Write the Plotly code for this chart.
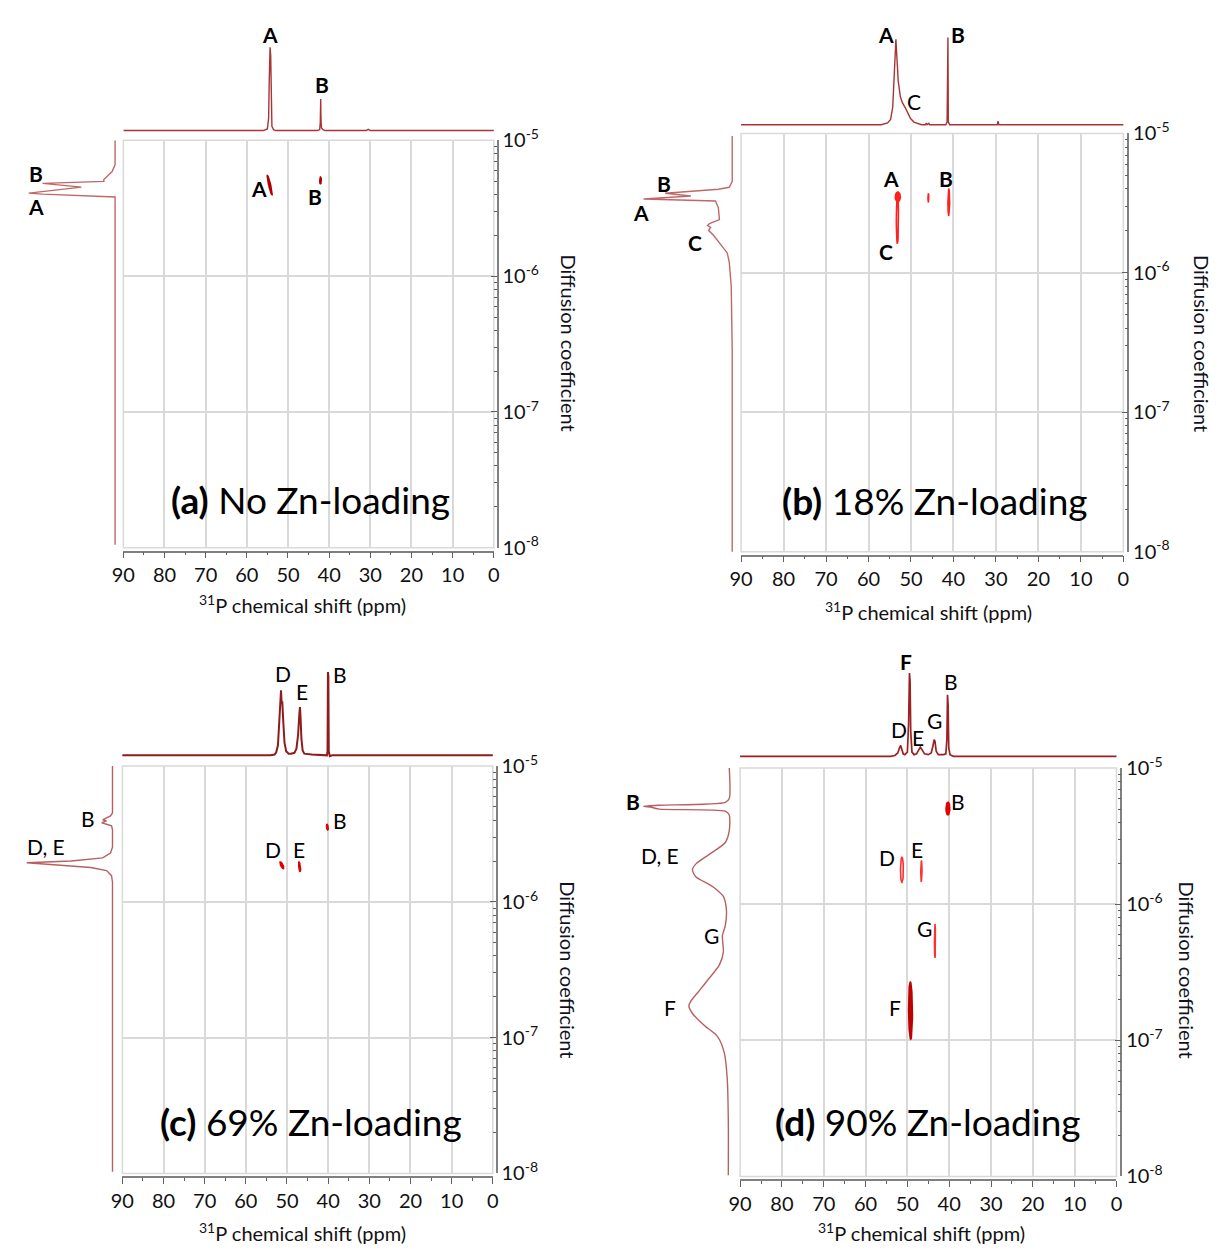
import math
import plotly.graph_objects as go

W, H = 1220, 1255
FONT = "Lato, 'Open Sans', sans-serif"

# ------------------------------------------------------------------ data
# 1D 31P spectra (top traces): chemical shift (ppm) vs normalised intensity
a_top_ppm = [90, 56, 55.0, 54.7, 54.55, 54.45, 54.35, 54.2, 54.1, 53.9, 53.5, 53, 43, 42.3, 42.15, 42.1, 42.05,
             42.0, 41.95, 41.85, 41.5, 41, 31, 30.5, 30, 0]
a_top_int = [0, 0, 0.02, 0.15, 0.6, 0.95, 1.0, 0.9, 0.4, 0.05, 0.01, 0, 0, 0.01, 0.1, 0.38, 0.38,
             0.2, 0.1, 0.03, 0.01, 0, 0, 0.015, 0, 0]

b_top_ppm = [90, 65, 64.5, 64, 57, 55.5, 54.8, 54.3, 54.0, 53.7, 53.55, 53.35, 53.0, 52.5, 52.0, 51.3, 50.7,
             50.1, 49.3, 48.3, 47.5, 46.6, 46.4, 46.2, 45.8, 45.6, 41.8, 41.5, 41.45, 41.4, 41.3, 41.25,
             41.2, 40.9, 29.7, 29.5, 29.3, 0]
b_top_int = [0, 0, 0.005, 0, 0, 0.02, 0.06, 0.2, 0.5, 0.9, 0.98, 0.8, 0.5, 0.32, 0.25, 0.19, 0.13,
             0.07, 0.03, 0.01, 0, 0, 0.02, 0, 0.015, 0, 0, 0.03, 0.5, 1.0, 1.0, 0.5,
             0.03, 0, 0, 0.04, 0, 0]

c_top_ppm = [90, 54, 53, 52.6, 52.2, 51.9, 51.6, 51.45, 51.3, 51.15, 50.9, 50.6, 50.2, 49.6, 49, 48.2, 47.7,
             47.3, 47.0, 46.85, 46.7, 46.5, 46.2, 45.8, 44, 41, 40.3, 40.15, 40.05, 39.95, 39.85, 39.6, 39, 0]
c_top_int = [0, 0, 0.01, 0.04, 0.12, 0.35, 0.7, 0.78, 0.62, 0.65, 0.4, 0.15, 0.05, 0.02, 0.02, 0.03, 0.08,
             0.25, 0.5, 0.58, 0.45, 0.2, 0.06, 0.02, 0.01, 0, 0, 0.05, 1.0, 0.95, 0.05, -0.01, 0, 0]

d_top_ppm = [90, 54, 53, 52.3, 51.9, 51.6, 51.3, 51.0, 50.6, 50.0, 49.7, 49.5, 49.35, 49.2, 48.9, 48.4, 47.8,
             47.3, 46.9, 46.5, 45.9, 45.0, 44.3, 43.9, 43.6, 43.4, 43.1, 42.6, 41.3, 40.8, 40.55, 40.4,
             40.25, 40.1, 39.8, 39, 0]
d_top_int = [0, 0, 0.01, 0.04, 0.1, 0.13, 0.08, 0.03, 0.02, 0.05, 0.4, 1.0, 0.9, 0.3, 0.05, 0.02, 0.03,
             0.08, 0.11, 0.08, 0.03, 0.02, 0.04, 0.12, 0.2, 0.18, 0.06, 0.02, 0.02, 0.03, 0.2, 0.74,
             0.6, 0.1, 0.02, 0, 0]

# Diffusion projections (left traces): normalised intensity vs diffusion coefficient
a_left_int = [0, 0, 0.034, 0.11, 0.13, 0.13, 0.84, 0.39, 1.0, 0.84, 0, 0]
a_left_D = [1.0e-5, 6.61e-6, 5.89e-6, 5.33e-6, 5.15e-6, 4.99e-6, 4.82e-6, 4.52e-6, 4.09e-6, 4.02e-6,
            3.83e-6, 1.05e-8]

b_left_int = [0, 0, 0.033, 0.156, 0.756, 0.467, 1.0, 0.678, 0.189, 0.156, 0.144, 0.256, 0.278, 0.244,
              0.267, 0.211, 0.122, 0.056, 0.033, 0.011, 0, 0]
b_left_D = [9.6e-6, 4.53e-6, 4.11e-6, 3.98e-6, 3.73e-6, 3.56e-6, 3.39e-6, 3.33e-6, 3.28e-6, 2.93e-6,
            2.41e-6, 2.26e-6, 2.19e-6, 2.12e-6, 2.02e-6, 1.86e-6, 1.58e-6, 1.39e-6, 1.19e-6, 8.04e-7,
            2.77e-7, 9.8e-9]

c_left_int = [0, 0, 0.023, 0.115, 0.069, 0.126, 0.011, 0, 0, 0.023, 0.115, 0.483, 1.0, 0.713, 0.253,
              0.069, 0.011, 0, 0]
c_left_D = [1.0e-5, 4.52e-6, 4.30e-6, 4.02e-6, 3.95e-6, 3.83e-6, 3.64e-6, 3.40e-6, 2.53e-6, 2.29e-6,
            2.11e-6, 2.00e-6, 1.94e-6, 1.88e-6, 1.79e-6, 1.70e-6, 1.56e-6, 1.39e-6, 1.03e-8]

d_left_int = [0, 0, 0.046, 0.816, 1.0, 0.908, 0.816, 0.046, 0, 0, 0.046, 0.23, 0.391, 0.43, 0.391, 0.23,
              0.161, 0.069, 0.034, 0.046, 0.08, 0.069, 0.115, 0.23, 0.356, 0.448, 0.471, 0.425, 0.287,
              0.138, 0.057, 0.023, 0.011, 0.011]
d_left_D = [1.0e-5, 5.98e-6, 5.60e-6, 5.33e-6, 5.24e-6, 5.15e-6, 4.99e-6, 4.82e-6, 4.52e-6, 3.47e-6,
            2.84e-6, 2.33e-6, 1.97e-6, 1.79e-6, 1.59e-6, 1.39e-6, 1.30e-6, 1.14e-6, 9.2e-7, 6.95e-7,
            5.89e-7, 4.44e-7, 3.58e-7, 2.88e-7, 2.29e-7, 1.94e-7, 1.79e-7, 1.56e-7, 1.28e-7, 1.07e-7,
            8.06e-8, 5.15e-8, 2.53e-8, 1.02e-8]

# 2D DOSY cross peaks: ppm at top / bottom end, D at top / bottom end, half width (ppm)
a_xp_ppm_top = [55.0, 42.1]
a_xp_ppm_bot = [53.9, 42.1]
a_xp_D_top = [5.50e-6, 5.37e-6]
a_xp_D_bot = [3.98e-6, 4.79e-6]
a_xp_hw = [0.25, 0.2]

b_xp_ppm_top = [53.1, 53.2, 45.9, 41.1]
b_xp_ppm_bot = [53.1, 53.2, 45.9, 41.1]
b_xp_D_top = [3.80e-6, 3.80e-6, 3.72e-6, 3.98e-6]
b_xp_D_bot = [3.24e-6, 1.62e-6, 3.24e-6, 2.57e-6]
b_xp_hw = [0.6, 0.25, 0.1, 0.2]

c_xp_ppm_top = [40.3, 51.6, 47.1]
c_xp_ppm_bot = [40.1, 50.9, 46.8]
c_xp_D_top = [3.72e-6, 1.97e-6, 1.97e-6]
c_xp_D_bot = [3.39e-6, 1.76e-6, 1.67e-6]
c_xp_hw = [0.2, 0.3, 0.2]

d_xp_ppm_top = [40.3, 51.3, 46.65, 43.4, 49.3]
d_xp_ppm_bot = [40.3, 51.3, 46.65, 43.4, 49.2]
d_xp_D_top = [5.62e-6, 2.21e-6, 2.09e-6, 7.16e-7, 2.69e-7]
d_xp_D_bot = [4.52e-6, 1.45e-6, 1.46e-6, 4.03e-7, 1.02e-7]
d_xp_hw = [0.45, 0.35, 0.15, 0.12, 0.45]

y_tickvals = [1e-8, 1e-7, 1e-6, 1e-5]
y_ticktext = ["10<sup>-8</sup>", "10<sup>-7</sup>", "10<sup>-6</sup>", "10<sup>-5</sup>"]
panel_titles = ["<b>(a)</b> No Zn-loading", "<b>(b)</b> 18% Zn-loading",
                "<b>(c)</b> 69% Zn-loading", "<b>(d)</b> 90% Zn-loading"]
x_title = "<sup>31</sup>P chemical shift (ppm)"
y_title = "Diffusion coefficient"

# ------------------------------------------------------------------ layout geometry (pixels)
panels = [
    dict(box=(113, 489, 128, 544), topx=(113, 492), topy=(20, 122), top0=118, top1=33,
         leftx=(6, 110), left0=104.6, left1=17, raxis=493, xline=548,
         title=(303, 495), xt=(295, 601), yt=(565, 335),
         top=(a_top_ppm, a_top_int), left=(a_left_int, a_left_D),
         xp=(a_xp_ppm_top, a_xp_ppm_bot, a_xp_D_top, a_xp_D_bot, a_xp_hw),
         topc="#a83434", topw=1.4, leftc="#c06868", xpc=["#b00000", "#b00000"], xpfill=[True, True],
         labels=[("A", 262, 20, True), ("B", 315, 71, True), ("A", 251, 177, True), ("B", 308, 185, True),
                 ("B", 24, 162, True), ("A", 24, 196, True)]),
    dict(box=(740, 1128, 121, 548), topx=(739, 1131), topy=(12, 116), top0=112, top1=23,
         leftx=(630, 736), left0=731, left1=641, raxis=1133, xline=552,
         title=(937, 496), xt=(930, 609), yt=(1208, 335),
         top=(b_top_ppm, b_top_int), left=(b_left_int, b_left_D),
         xp=(b_xp_ppm_top, b_xp_ppm_bot, b_xp_D_top, b_xp_D_bot, b_xp_hw),
         topc="#a83434", topw=1.4, leftc="#c06868", xpc=["#ff2020", "#ff2020", "#ff2020", "#ff2020"],
         xpfill=[True, False, True, True],
         labels=[("A", 887, 20, True), ("B", 960, 20, True), ("C", 915, 88, False),
                 ("A", 892, 167, True), ("B", 948, 167, True), ("C", 887, 241, True),
                 ("B", 662, 172, True), ("A", 638, 202, True), ("C", 693, 232, True)]),
    dict(box=(112, 488, 767, 1183), topx=(107, 495), topy=(660, 760), top0=756, top1=671,
         leftx=(6, 106), left0=102, left1=15, raxis=492, xline=1187,
         title=(303, 1130), xt=(295, 1243), yt=(565, 975),
         top=(c_top_ppm, c_top_int), left=(c_left_int, c_left_D),
         xp=(c_xp_ppm_top, c_xp_ppm_bot, c_xp_D_top, c_xp_D_bot, c_xp_hw),
         topc="#8e1c1c", topw=2.0, leftc="#b86060", xpc=["#e00000", "#e00000", "#e00000"],
         xpfill=[True, True, True],
         labels=[("D", 275, 672, False), ("E", 294, 691, False), ("B", 333, 673, False),
                 ("B", 333, 823, False), ("D", 265, 852, False), ("E", 291, 852, False),
                 ("B", 77, 820, False), ("D, E", 35, 849, False)]),
    dict(box=(739, 1121, 769, 1186), topx=(737, 1124), topy=(660, 762), top0=757, top1=672,
         leftx=(632, 733), left0=728, left1=641, raxis=1126, xline=1190,
         title=(930, 1130), xt=(923, 1243), yt=(1193, 975),
         top=(d_top_ppm, d_top_int), left=(d_left_int, d_left_D),
         xp=(d_xp_ppm_top, d_xp_ppm_bot, d_xp_D_top, d_xp_D_bot, d_xp_hw),
         topc="#9b2222", topw=1.7, leftc="#b86060",
         xpc=["#e00000", "#ff3030", "#ff3030", "#ff3030", "#c00000"],
         xpfill=[True, False, True, True, True],
         labels=[("F", 907, 660, True), ("B", 953, 681, False), ("D", 900, 730, False),
                 ("E", 920, 738, False), ("G", 936, 720, False),
                 ("B", 960, 803, False), ("D", 888, 860, False), ("E", 919, 852, False),
                 ("G", 926, 933, False), ("F", 896, 1013, False),
                 ("B", 630, 803, True), ("D, E", 658, 858, False), ("G", 710, 940, False),
                 ("F", 668, 1013, False)]),
]


def px(x):
    return x / W


def py(y):
    return 1 - y / H


def lin_range(d0, d1, p0, p1):
    return [(d0 - p0) / (p1 - p0), (d1 - p0) / (p1 - p0)]


def ppm_at(p, box):
    x0, x1 = box[0], box[1]
    return 90 - (p - x0) * 90 / (x1 - x0)


def ax_names(i):
    return ("xaxis" if i == 1 else f"xaxis{i}", "yaxis" if i == 1 else f"yaxis{i}",
            "x" if i == 1 else f"x{i}", "y" if i == 1 else f"y{i}")


fig = go.Figure()
layout = {}
annotations = []
shapes = []
GRID = "#d9d9d9"
AXC = "#808080"

for k, g in enumerate(panels):
    x0, x1, y0, y1 = g["box"]
    im, it, il = 3 * k + 1, 3 * k + 2, 3 * k + 3
    mxa, mya, mx, my = ax_names(im)
    txa, tya, tx, ty = ax_names(it)
    lxa, lya, lx, ly = ax_names(il)

    # main 2D axes
    layout[mxa] = dict(domain=[px(x0), px(x1)], range=[90, 0], anchor="free", position=py(g["xline"]),
                       tickmode="linear", tick0=0, dtick=10, ticks="outside", ticklen=6, tickwidth=1.2,
                       tickcolor="#606060", showline=True, linecolor=AXC, linewidth=1.5,
                       showgrid=True, gridcolor=GRID, gridwidth=1.5, zeroline=False,
                       minor=dict(dtick=5, ticks="outside", ticklen=3, tickcolor="#606060", showgrid=False),
                       tickfont=dict(size=20, color="#111111", family=FONT))
    layout[mya] = dict(domain=[py(y1), py(y0)], type="log", range=[-8, -5], side="right", anchor="free",
                       position=px(g["raxis"]), tickmode="array", tickvals=y_tickvals, ticktext=y_ticktext,
                       ticks="inside", ticklen=6, tickwidth=1.2, tickcolor="#606060",
                       showline=True, linecolor=AXC, linewidth=1.5,
                       showgrid=True, gridcolor=GRID, gridwidth=1.5, zeroline=False,
                       minor=dict(dtick="D1", ticks="inside", ticklen=3, tickcolor="#606060", showgrid=False),
                       tickfont=dict(size=20, color="#111111", family=FONT))
    shapes.append(dict(type="rect", xref=f"{mx} domain", yref=f"{my} domain", x0=0, x1=1, y0=0, y1=1,
                       line=dict(color=GRID, width=1.5), layer="below"))

    # top spectrum axes
    tx0, tx1 = g["topx"]
    ty0, ty1 = g["topy"]
    layout[txa] = dict(domain=[px(tx0), px(tx1)], range=[ppm_at(tx0, g["box"]), ppm_at(tx1, g["box"])],
                       anchor=ty, visible=False)
    layout[tya] = dict(domain=[py(ty1), py(ty0)], range=lin_range(ty1, ty0, g["top0"], g["top1"]),
                       anchor=tx, visible=False)

    # left projection axes
    lx0, lx1 = g["leftx"]
    layout[lxa] = dict(domain=[px(lx0), px(lx1)], range=lin_range(lx0, lx1, g["left0"], g["left1"]),
                       anchor=ly, visible=False)
    layout[lya] = dict(domain=[py(y1), py(y0)], type="log", range=[-8, -5], anchor=lx, visible=False)

    tp, ti = g["top"]
    fig.add_trace(go.Scatter(x=tp, y=ti, mode="lines", line=dict(color=g["topc"], width=g["topw"]),
                             xaxis=tx, yaxis=ty, hoverinfo="skip", showlegend=False))
    li, ld = g["left"]
    fig.add_trace(go.Scatter(x=li, y=ld, mode="lines",
                             line=dict(color=g["leftc"], width=1.4,
                                       shape="spline" if k == 3 else "linear", smoothing=0.7),
                             xaxis=lx, yaxis=ly, hoverinfo="skip", showlegend=False))

    # cross peaks as small ellipses in (ppm, log D)
    pt, pb, dt, db, hw = g["xp"]
    for j in range(len(pt)):
        lt, lb = math.log10(dt[j]), math.log10(db[j])
        xs, ys = [], []
        n = 48
        for s in range(n + 1):
            t = 2 * math.pi * s / n
            u = math.sin(t)
            c = pb[j] + (pt[j] - pb[j]) * (u + 1) / 2
            xs.append(c + hw[j] * math.cos(t))
            ys.append(10 ** ((lt + lb) / 2 + (lt - lb) / 2 * u))
        col = g["xpc"][j]
        fig.add_trace(go.Scatter(x=xs, y=ys, mode="lines", line=dict(color=col, width=1.6),
                                 fill="toself" if g["xpfill"][j] else "none", fillcolor=col,
                                 xaxis=mx, yaxis=my, hoverinfo="skip", showlegend=False))

    # texts
    for txt, lxp, lyp, bold in g["labels"]:
        annotations.append(dict(text=f"<b>{txt}</b>" if bold else txt, x=px(lxp), y=py(lyp),
                                xref="paper", yref="paper", xanchor="center", yanchor="middle",
                                showarrow=False, font=dict(size=21, color="#000000", family=FONT)))
    annotations.append(dict(text=panel_titles[k], x=px(g["title"][0]), y=py(g["title"][1]),
                            xref="paper", yref="paper", xanchor="center", yanchor="middle",
                            showarrow=False, font=dict(size=37, color="#000000", family=FONT)))
    annotations.append(dict(text=x_title, x=px(g["xt"][0]), y=py(g["xt"][1]), xref="paper", yref="paper",
                            xanchor="center", yanchor="middle", showarrow=False,
                            font=dict(size=20, color="#111111", family=FONT)))
    annotations.append(dict(text=y_title, x=px(g["yt"][0]), y=py(g["yt"][1]), xref="paper", yref="paper",
                            xanchor="center", yanchor="middle", showarrow=False, textangle=90,
                            font=dict(size=20, color="#111122", family=FONT)))

fig.update_layout(**layout)
fig.update_layout(width=W, height=H, autosize=False, margin=dict(l=0, r=0, t=0, b=0),
                  paper_bgcolor="white", plot_bgcolor="white", showlegend=False,
                  annotations=annotations, shapes=shapes, font=dict(family=FONT))
fig.write_html("out.html")
